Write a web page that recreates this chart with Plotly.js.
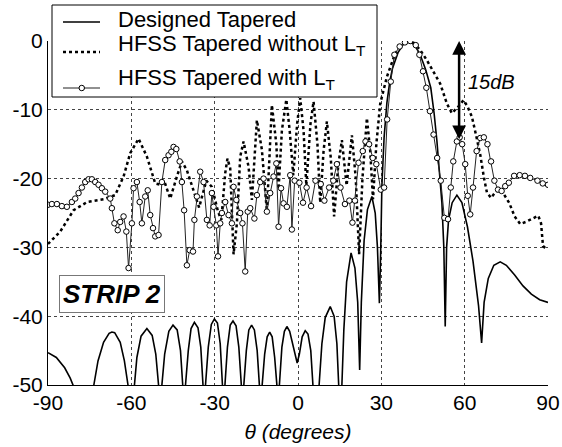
<!DOCTYPE html>
<html>
<head>
<meta charset="utf-8">
<script src="https://cdn.plot.ly/plotly-3.0.1.min.js"></script>
<style>html,body{margin:0;padding:0;background:#fff;}#chart{width:562px;height:447px;}</style>
</head>
<body>
<div id="chart"></div>
<script>
// ---- Data ----
const thetaDesigned = [-90,-87,-84,-82,-80,-78,-75.5,-73.5,-72,-70,-68,-67,-66,-64,-62.5,-61.2,-60.2,-59,-58,-56.5,-54.4,-52.5,-51.2,-50.2,-49.6,-49,-48,-46.5,-45,-43.5,-42.3,-41.5,-41,-40.5,-39.5,-38.5,-37.3,-36,-35,-34.2,-33.8,-33.3,-32.3,-31.2,-30.1,-29,-28,-27.2,-26.8,-26.3,-25.4,-24.4,-23.4,-22.3,-21.3,-20.4,-20,-19.5,-18.6,-17.7,-16.7,-15.7,-14.7,-13.9,-13.4,-12.9,-12,-11.1,-10.2,-9.3,-8.4,-7.6,-7.2,-6.7,-5.8,-4.9,-4,-3,-2,-1,-0.3,0.5,1.5,2.6,3.6,4.6,5.6,6.3,7,7.6,8.6,9.8,11.6,13,14,14.8,15.3,15.8,16.5,17.5,19.1,20.5,21.5,22.2,22.8,23.8,25,26.6,27.8,28.6,29.3,29.8,30.2,31,32,33,34,36,38,40,42,44,46,47.8,49,50,51,51.8,52.5,53,53.5,54.2,55.5,57.2,59,61,63,65,66.1,67,68.5,70.5,72.8,75,78,81,84,87,90];
const gainDesigned = [-45.3,-46.0,-47.5,-49.0,-51,-56,-56,-50,-46.5,-43.8,-42.5,-42.3,-42.4,-43.8,-46.5,-50,-56,-50.5,-46.0,-42.9,-41.8,-42.8,-45.5,-50,-56,-50,-45.5,-42.2,-41.3,-42.0,-45,-50,-56,-50,-45,-41.8,-40.9,-41.7,-44.5,-50,-56,-50,-44.5,-41.2,-40.4,-41.0,-44,-50,-56,-50,-44.5,-41.3,-40.7,-41.4,-44.5,-50,-56,-50,-45,-42,-41.3,-42,-45,-50,-56,-50,-45.5,-43,-42.3,-43,-46,-50,-56,-50,-44.5,-42.2,-41.5,-42.2,-44,-46,-46.8,-45.5,-43,-42.1,-42.6,-45,-50,-56,-56,-50,-44,-40.2,-38.6,-40,-44,-50,-56,-50,-42,-35,-30.8,-33,-38,-47.8,-38,-29,-24.5,-22.6,-25,-30,-38.1,-30,-21,-14,-9,-6,-4,-1.7,-0.4,0,-0.6,-2,-4.2,-6.8,-10.5,-14.5,-19,-23.5,-30,-41.5,-30,-26,-23.5,-22.4,-23.5,-27,-32,-38.5,-43.9,-38,-34.5,-32.6,-32.1,-32.6,-34,-35.6,-36.8,-37.6,-38];

const thetaNoLT = [-90,-85.6,-80.8,-75.9,-70,-65.8,-62.8,-60.4,-57.4,-54.4,-51.4,-49.6,-48.2,-46,-43.6,-41.8,-40,-37.6,-35.6,-33,-31,-28.8,-27.6,-26.2,-25.4,-24.4,-23.2,-22,-20.8,-19.6,-17.8,-16.6,-14.8,-13,-11.2,-9.4,-7.8,-7,-5.8,-4.2,-3,-1.7,-0.3,0.8,2,3,4.5,5.6,7,8,9.2,10.4,11.8,13,14.5,15.8,17.5,19.4,20.8,22,23.2,24.8,26,27,28.2,29.6,32,35,38.6,41,44,46.4,48.8,51.2,53.6,55.4,57.8,59.6,61,62.6,64,65.6,67,68,69.5,71,72.5,74,76,78,80,82,84.5,86.5,87.5,88.2,89,90];
const gainNoLT = [-29.5,-27.7,-24.6,-23.4,-23.0,-22.4,-19.7,-16.3,-14.2,-16.8,-20.7,-20.9,-20.3,-22.9,-19.7,-17.5,-18.8,-21.7,-24.2,-20.3,-21.2,-24.8,-26,-19.2,-17.1,-18.5,-31,-26.5,-16.8,-14.6,-18.3,-23.1,-11.5,-15.8,-24.8,-9.3,-15,-21.5,-13,-8.5,-13,-19.5,-12,-8.3,-13,-21,-12,-8.8,-15,-23.5,-16,-11.7,-17,-25.5,-18,-14.4,-21,-13.7,-20,-31,-20,-11.2,-16,-23,-15,-9.1,-5.2,-1.8,-0.1,0,-1.3,-2.8,-4.5,-6.2,-9.1,-10.5,-9.5,-8.6,-9.5,-11,-13.5,-16.5,-20,-22,-22.8,-22,-21.5,-22.2,-23.5,-25.5,-26.6,-26.3,-25.8,-25.4,-26.5,-29.8,-30.1,-30];

const thetaWithLT = [-90,-88.6,-86.8,-85,-83.2,-81.4,-80.2,-79,-77.8,-76.6,-75.4,-74.2,-73,-71.8,-70.6,-69.4,-67.6,-67,-66.1,-64.9,-64,-62.8,-61.8,-61,-59.8,-59.2,-58,-57,-56.2,-55,-54.1,-53.2,-52.2,-51.4,-50.2,-49,-47.8,-46.6,-45.6,-44.8,-43.8,-42.6,-41.8,-41,-40,-39,-37.8,-37.3,-36.4,-35.2,-34,-32.8,-31.8,-31,-30.4,-29.4,-28.8,-28,-27.4,-26.2,-25,-23.8,-23.2,-22.2,-20.8,-20,-19,-18.1,-17.2,-15.7,-14.8,-13.6,-12.4,-11.2,-10,-8.8,-7.8,-7,-6.1,-5.2,-4,-2.8,-2.2,-1.2,0.5,1.8,3.1,4.7,6.3,8.2,9.5,11.2,12.7,14,15.3,16.9,18.5,19.6,20.5,21.8,23.3,24.3,25.6,26.9,28.2,29.8,31,32.1,33.4,34.7,36.6,38.5,40.4,42.4,43.7,45,46.2,47.5,48.8,50.1,51.4,52.7,54,55,55.9,57.2,58.2,59.1,60.2,61.1,62,63,64.3,65.6,66.9,68.2,69.5,70.7,72,73.3,74.6,75.9,77.8,79.8,81.7,83.6,86.2,88.1,90];
const gainWithLT = [-23.8,-23.7,-23.7,-24.0,-24.1,-23.4,-22.9,-22.1,-21.3,-20.5,-20.1,-20.1,-20.5,-20.9,-21.4,-21.9,-22.9,-24.3,-26.5,-27.5,-26.3,-25.5,-27.7,-33.0,-26.5,-21.4,-20.5,-23.4,-26.5,-22.6,-21.7,-25.3,-27.2,-28.4,-28.2,-20.5,-17.3,-16.6,-16.1,-15.4,-15.7,-17.5,-20.5,-24.6,-32.6,-30.4,-30.6,-26,-22.6,-19,-20.5,-26,-26.8,-22.1,-24.1,-26.8,-31.3,-26.5,-25,-23.4,-25.3,-26.5,-21.2,-23.1,-25,-26.5,-33.5,-24.8,-24.3,-25.8,-22.4,-20.5,-20,-24.8,-22.1,-19.7,-17.8,-27,-21.4,-23.6,-24.1,-19.5,-27.4,-20.3,-20.6,-23.5,-21.3,-24,-20.3,-20.8,-23.2,-21.3,-20.3,-17.9,-21.3,-23.7,-23.2,-26.4,-23.2,-17.7,-16,-14.6,-15,-17,-17.9,-21.6,-21.3,-11.4,-5.9,-2,-0.8,-0.2,0,-0.6,-2,-4.4,-6.8,-10.2,-13.6,-17,-20.3,-25.7,-25.9,-21.3,-17.5,-14.6,-14,-15,-17.9,-22.5,-25.2,-21.3,-16,-14.1,-14,-15,-17.5,-20.3,-21.6,-21.8,-21.1,-20.6,-19.6,-19.5,-19.6,-19.9,-20.3,-20.7,-20.9];

const seriesNames = ['Designed Tapered', 'HFSS Tapered without L<sub>T</sub>', 'HFSS Tapered with L<sub>T</sub>'];
const xTickVals = [-90,-60,-30,0,30,60,90];
const yTickVals = [-50,-40,-30,-20,-10,0];

const FONT = '"Liberation Sans", Arial, Helvetica, sans-serif';

// plot area in pixels (for placing the hand-built legend box in paper units)
const W = 562, H = 447, M = {l: 48, r: 14, t: 41, b: 62};
const PW = W - M.l - M.r, PH = H - M.t - M.b;
const px = v => (v - M.l) / PW;
const py = v => (H - M.b - v) / PH;

const traces = [
  {x: thetaDesigned, y: gainDesigned, name: seriesNames[0], mode: 'lines',
   line: {color: '#000', width: 1.6}},
  {x: thetaNoLT, y: gainNoLT, name: seriesNames[1], mode: 'lines',
   line: {color: '#000', width: 2.5, dash: 'dot'}},
  {x: thetaWithLT, y: gainWithLT, name: seriesNames[2], mode: 'lines+markers',
   line: {color: '#222', width: 1},
   marker: {symbol: 'circle', size: 5.5, color: '#fff', line: {color: '#000', width: 1}}}
];

const gridStyle = {showgrid: true, gridcolor: '#444', griddash: 'dot', gridwidth: 1, zeroline: false};

// legend (drawn as shapes + texts so its box matches the reference)
const legendRows = [22, 52, 88];
const legendTextY = [19, 45, 79];
const shapes = [
  {type: 'rect', xref: 'paper', yref: 'paper', x0: px(52), x1: px(377), y0: py(97), y1: py(5),
   line: {color: '#000', width: 1}, fillcolor: '#fff', layer: 'above'},
  {type: 'line', xref: 'paper', yref: 'paper', x0: px(63), x1: px(100), y0: py(legendRows[0]), y1: py(legendRows[0]),
   line: {color: '#000', width: 1.6}, layer: 'above'},
  {type: 'line', xref: 'paper', yref: 'paper', x0: px(63), x1: px(100), y0: py(legendRows[1]), y1: py(legendRows[1]),
   line: {color: '#000', width: 2.5, dash: 'dot'}, layer: 'above'},
  {type: 'line', xref: 'paper', yref: 'paper', x0: px(63), x1: px(100), y0: py(legendRows[2]), y1: py(legendRows[2]),
   line: {color: '#222', width: 1}, layer: 'above'},
  {type: 'circle', xref: 'paper', yref: 'paper', x0: px(79), x1: px(84.5), y0: py(legendRows[2] + 2.75), y1: py(legendRows[2] - 2.75),
   line: {color: '#000', width: 1}, fillcolor: '#fff', layer: 'above'}
];

const legendTexts = seriesNames.map((t, i) => ({
  xref: 'paper', yref: 'paper', x: px(116), y: py(legendTextY[i]), xanchor: 'left', yanchor: 'middle',
  text: t, showarrow: false, font: {size: 22, family: FONT, color: '#000'}
}));

const layout = {
  width: W, height: H,
  margin: M,
  paper_bgcolor: '#fff', plot_bgcolor: '#fff',
  font: {family: FONT, size: 21, color: '#000'},
  showlegend: false,
  xaxis: Object.assign({range: [-90, 90], tickvals: xTickVals, ticktext: xTickVals.map(String),
          showline: true, linecolor: '#000', linewidth: 1, ticks: '', mirror: false,
          tickfont: {size: 21, family: FONT}, ticklabelstandoff: -1,
          title: {text: '<i>θ (degrees)</i>', font: {size: 21, family: FONT}, standoff: 11}}, gridStyle),
  yaxis: Object.assign({range: [-50, 0], tickvals: yTickVals, ticktext: yTickVals.map(String),
          showline: true, linecolor: '#000', linewidth: 1, ticks: '',
          tickfont: {size: 21, family: FONT}}, gridStyle),
  shapes: shapes,
  annotations: [
    {x: 58, y: 0, ax: 58, ay: -14.5, xref: 'x', yref: 'y', axref: 'x', ayref: 'y',
     text: '', showarrow: true, arrowhead: 2, startarrowhead: 2, arrowside: 'end+start',
     arrowwidth: 2.5, arrowsize: 1.1, arrowcolor: '#000'},
    {x: 69.6, y: -5.9, xref: 'x', yref: 'y', text: '<i>15dB</i>', showarrow: false,
     font: {size: 20, family: FONT}},
    {x: -67.1, y: -36.7, xref: 'x', yref: 'y', text: '<b><i>STRIP 2</i></b>', showarrow: false,
     font: {size: 26, family: FONT}, bordercolor: '#777', borderwidth: 1, borderpad: 3, bgcolor: '#fff'}
  ].concat(legendTexts)
};

Plotly.newPlot('chart', traces, layout, {displayModeBar: false, staticPlot: true});
</script>
</body>
</html>
